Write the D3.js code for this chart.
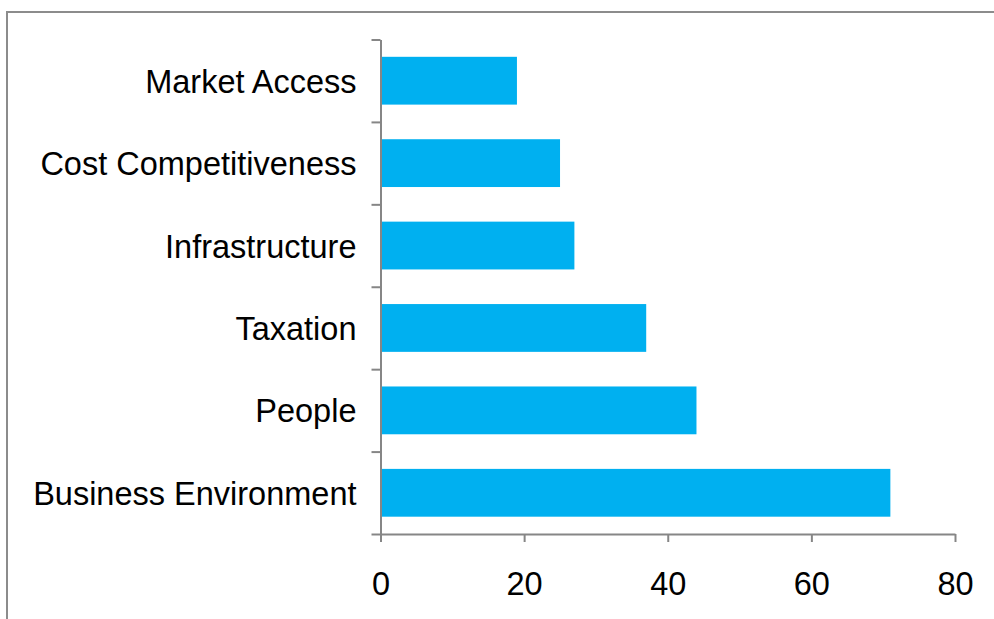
<!DOCTYPE html>
<html>
<head>
<meta charset="utf-8">
<script src="https://cdn.jsdelivr.net/npm/d3@7"></script>
<style>
  html, body { margin: 0; padding: 0; background: #fff; }
  svg { display: block; }
  text { font-family: "Liberation Sans", Arial, sans-serif; fill: #000; }
</style>
</head>
<body>
<svg id="chart" width="994" height="619"></svg>
<script>
// Factors, listed top to bottom
const categories = ["Market Access", "Cost Competitiveness", "Infrastructure", "Taxation", "People", "Business Environment"];
const values = [19, 25, 27, 37, 44, 71];
const xTicks = [0, 20, 40, 60, 80];

const svg = d3.select("#chart");
const W = 994, H = 619;
const margin = { left: 380.5, right: 39, top: 39.5, bottom: 85 };
const fontSize = "32.5px";

// Outer frame
svg.append("rect")
  .attr("x", 7).attr("y", 12)
  .attr("width", W + 10).attr("height", H + 10)
  .attr("fill", "none")
  .attr("stroke", "#8c8c8c")
  .attr("stroke-width", 2);

const x = d3.scaleLinear()
  .domain([0, 80])
  .range([margin.left, W - margin.right]);

const y = d3.scaleBand()
  .domain(categories)
  .range([margin.top, H - margin.bottom])
  .paddingInner(0.42)
  .paddingOuter(0.21);

// Bars
svg.append("g")
  .selectAll("rect")
  .data(categories)
  .join("rect")
  .attr("x", x(0))
  .attr("y", d => y(d))
  .attr("width", (d, i) => x(values[i]) - x(0))
  .attr("height", y.bandwidth())
  .attr("fill", "#00B0F0");

const axisColor = "#868686";

// Vertical axis: ticks sit on category boundaries
const boundary = d3.scaleLinear()
  .domain([0, categories.length])
  .range([margin.top, H - margin.bottom]);

const yAxis = svg.append("g")
  .attr("transform", `translate(${x(0)},0)`)
  .call(d3.axisLeft(boundary)
    .tickValues(d3.range(categories.length + 1))
    .tickSize(9)
    .tickSizeOuter(0)
    .tickFormat(""));
yAxis.selectAll("path, line").attr("stroke", axisColor).attr("stroke-width", 2);

// Category labels
svg.append("g")
  .selectAll("text")
  .data(categories)
  .join("text")
  .attr("x", x(0) - 24)
  .attr("y", d => y(d) + y.bandwidth() / 2)
  .attr("dy", "0.37em")
  .attr("text-anchor", "end")
  .style("font-size", fontSize)
  .text(d => d);

// Horizontal axis
const xAxis = svg.append("g")
  .attr("transform", `translate(0,${H - margin.bottom})`)
  .call(d3.axisBottom(x)
    .tickValues(xTicks)
    .tickSize(8)
    .tickSizeOuter(0)
    .tickPadding(30)
    .tickFormat(d3.format("d")));
xAxis.selectAll("path, line").attr("stroke", axisColor).attr("stroke-width", 2);
xAxis.selectAll("text")
  .style("font-family", "\"Liberation Sans\", Arial, sans-serif")
  .style("font-size", fontSize)
  .attr("fill", "#000");
</script>
</body>
</html>
